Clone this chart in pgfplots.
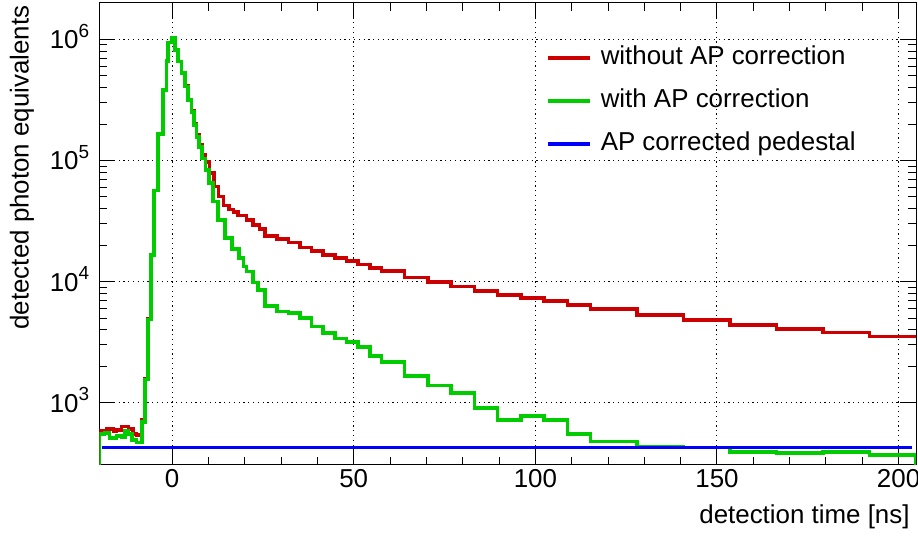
\documentclass[border=0pt]{standalone}
\usepackage{fontspec}
\setmainfont{Liberation Sans}
\usepackage{pgfplots}
\pgfplotsset{compat=1.18}
\definecolor{hred}{RGB}{204,0,0}
\definecolor{hgreen}{RGB}{0,204,0}
\definecolor{hblue}{RGB}{0,0,255}
\newcommand{\sups}[1]{\raisebox{0.45em}{\fontsize{9.5}{10}\selectfont #1}}

\begin{document}
\fontsize{13}{15.6}\selectfont
\begin{tikzpicture}
\begin{axis}[
scale only axis,
width=408.25bp, height=231bp,
ymode=log,
xmin=-20, xmax=204.8,
ymin=306, ymax=2e6,
axis line style={line width=0.5bp},
every tick/.style={black, line width=0.5bp},
major tick length=8bp, minor tick length=4bp,
xtick={0,50,...,200}, minor x tick num=4,
ytick={1e3,1e4,1e5,1e6},
yticklabels={10\sups{3},10\sups{4},10\sups{5},10\sups{6}},
grid=major,
major grid style={black, line width=0.5bp, dash pattern=on 0.6bp off 1.8bp},
/pgf/number format/assume math mode=true,
xticklabel style={anchor=north, inner sep=0pt, yshift=-2bp},
yticklabel style={anchor=base east, inner sep=0pt, xshift=-5bp, yshift=-4.7bp},
xlabel={detection time [ns]},
ylabel={detected photon equivalents},
xlabel style={at={(axis description cs:0.9926,-0.1126)}, anchor=east, inner sep=0pt},
ylabel style={at={(axis description cs:-0.0949,0.9957)}, anchor=east, inner sep=0pt},
legend style={draw=none, fill=none, at={(0.5468,0.908)}, anchor=north west,
  inner sep=0pt, row sep=9.2bp,
  nodes={inner sep=0pt, text height=9.5bp, text depth=2.8bp},
  /tikz/every odd column/.append style={column sep=4.5bp}},
legend cell align=left,
legend image code/.code={\draw[#1, line width=1.7bp] (0bp,0bp) -- (21bp,0bp);},
]

% without AP correction
\addplot[hred, line width=1.8bp, const plot mark left, no markers] coordinates {
(-20,100) (-20,585) (-18.1,604) (-16.2,577) (-15.3,596) (-13.9,635) (-12.0,608)
(-10.7,553) (-9.8,542) (-8.3,721) (-7.4,1590) (-6.6,4890) (-5.8,16600) (-5.0,56500)
(-3.9,165000) (-2.5,383000) (-1.6,664000) (-1.1,941000) (-0.2,1040000) (0.74,819000)
(1.66,660000) (2.58,530000) (3.5,412000) (4.42,320000) (5.33,256000) (5.98,200000)
(6.71,162000) (7.45,134000) (8.27,112000) (9.19,97000) (10.3,78500) (11.6,60900)
(12.8,50300) (14.1,42500) (15.6,39500) (16.9,37500) (18.2,35300) (20.5,32300)
(22.3,29400) (24.1,27200) (25.5,23800) (28.8,22400) (32,21000) (35.2,19200)
(38.4,17900) (41.6,16600) (44.8,15600) (48,14800) (51.2,13900) (54.4,12900)
(57.6,12300) (64,10800) (70.4,9890) (76.8,9100) (83.2,8380) (89.6,7770) (96,7290)
(102.4,6930) (108.8,6390) (115.2,5920) (128,5310) (140.8,4830) (153.6,4390)
(166.4,4050) (179.2,3800) (192,3520) (204.8,3520)
};
\addlegendentry{without AP correction}

% with AP correction
\addplot[hgreen, line width=1.8bp, const plot mark left, no markers] coordinates {
(-20,100) (-20,553) (-18.6,560) (-17.3,509) (-15.3,532) (-13.9,519) (-13.0,585)
(-12.0,553) (-11.1,493) (-9.8,468) (-8.3,690) (-7.4,1560) (-6.6,4850) (-5.8,16600)
(-5.0,56500) (-3.9,165000) (-2.5,383000) (-1.6,664000) (-1.1,941000) (-0.2,1040000)
(0.74,819000) (1.66,657000) (2.58,526000) (3.5,408000) (4.42,316000) (5.33,253000)
(5.98,197000) (6.71,157000) (7.45,130000) (8.27,104000) (9.19,83600) (10.1,65000)
(11.3,45800) (12.7,32400) (14.5,22800) (16.4,18500) (18.4,15600) (19.6,13300)
(20.5,12100) (22.3,9820) (23.7,8540) (25.5,6300) (28.8,5650) (32,5480) (35.2,4990)
(38.4,4250) (41.6,3750) (44.8,3390) (48,3180) (51.2,2900) (54.4,2430) (57.6,2160)
(64,1660) (70.4,1385) (76.8,1197) (83.2,901) (89.6,721) (96,778) (102.4,721)
(108.8,550) (115.2,480) (128,434) (140.8,428) (153.6,394) (166.4,383) (179.2,394)
(192,370) (204.8,370) (204.8,100)
};
\addlegendentry{with AP correction}

% AP corrected pedestal
\addplot[hblue, line width=1.8bp, no markers] coordinates {(-19.3,428) (203.7,428)};
\addlegendentry{AP corrected pedestal}

\end{axis}
\pgfresetboundingbox
\path[use as bounding box] (-49.75bp,-37bp) rectangle (409.25bp,232.5bp);
\end{tikzpicture}
\end{document}
